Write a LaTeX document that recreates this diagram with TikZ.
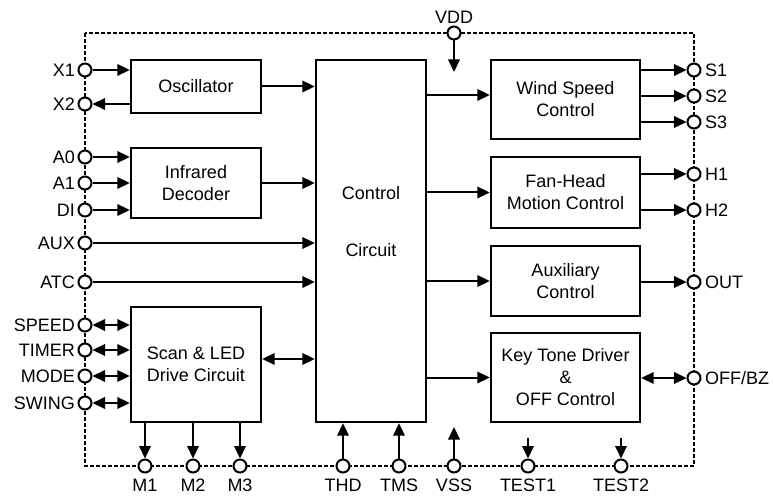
\documentclass[tikz,border=0pt]{standalone}
\usepackage{fontspec}
\setmainfont{Liberation Sans}
\usetikzlibrary{arrows.meta}
\tikzset{
  blk/.style={draw, line width=2.4pt, align=center},
  port/.style={circle, draw, fill=white, line width=2pt, minimum size=13pt, inner sep=0pt},
  lport/.style={port, label={[label distance=-1pt]left:#1}},
  rport/.style={port, label={[label distance=0pt]right:#1}},
  bport/.style={port, label={[label distance=2pt]below:#1}},
  tport/.style={port, label={[label distance=-1.5pt]above:#1}},
  sig/.style={line width=2pt, -{Triangle[length=12.5pt,width=11.5pt]}},
  bsig/.style={line width=2pt, {Triangle[length=12.5pt,width=11.5pt]}-{Triangle[length=12.5pt,width=11.5pt]}},
}
\begin{document}
\begin{tikzpicture}[x=1pt, y=-1pt, every node/.style={font=\fontsize{18}{22}\selectfont}]
  \useasboundingbox (0,0) rectangle (773,502);
  \node[blk, minimum width=130pt, minimum height=53pt] (osc) at (196,86.5) {Oscillator};
  \node[blk, minimum width=130pt, minimum height=70pt] (ird) at (196,183) {Infrared\\Decoder};
  \node[blk, minimum width=130pt, minimum height=115pt] (scan) at (196,364.5) {Scan \& LED\\Drive Circuit};
  \node[blk, minimum width=110pt, minimum height=362pt] (ctl) at (371,241) {};
  \node[align=center] (ctltxt) at (371,221.5) {Control\\[35pt]Circuit};
  \node[blk, minimum width=149pt, minimum height=79pt] (wsc) at (565.5,99.5) {Wind Speed\\Control};
  \node[blk, minimum width=149pt, minimum height=71pt] (fan) at (565.5,192.5) {Fan-Head\\Motion Control};
  \node[blk, minimum width=149pt, minimum height=70pt] (auxc) at (565.5,281) {Auxiliary\\Control};
  \node[blk, minimum width=149pt, minimum height=89pt] (key) at (565.5,377.5) {Key Tone Driver\\\&\\OFF Control};
  \draw[line width=1.4pt, dash pattern=on 4pt off 2pt] (85,33) rectangle (694,466);
  \node[lport=X1] (x1) at (85,70) {};
  \node[lport=X2] (x2) at (85,104) {};
  \node[lport=A0] (a0) at (85,157) {};
  \node[lport=A1] (a1) at (85,183) {};
  \node[lport=DI] (di) at (85,210) {};
  \node[lport=AUX] (aux) at (85,243) {};
  \node[lport=ATC] (atc) at (85,282) {};
  \node[lport=SPEED] (speed) at (85,325) {};
  \node[lport=TIMER] (timer) at (85,350) {};
  \node[lport=MODE] (mode) at (85,376) {};
  \node[lport=SWING] (swing) at (85,403) {};
  \node[rport=S1] (s1) at (694,70) {};
  \node[rport=S2] (s2) at (694,96) {};
  \node[rport=S3] (s3) at (694,122) {};
  \node[rport=H1] (h1) at (694,174) {};
  \node[rport=H2] (h2) at (694,210) {};
  \node[rport=OUT] (out) at (694,282) {};
  \node[rport=OFF/BZ] (offbz) at (694,378) {};
  \node[tport=VDD] (vdd) at (454,33) {};
  \node[bport=M1] (m1) at (145,466) {};
  \node[bport=M2] (m2) at (193,466) {};
  \node[bport=M3] (m3) at (240,466) {};
  \node[bport=THD] (thd) at (343,466) {};
  \node[bport=TMS] (tms) at (399,466) {};
  \node[bport=VSS] (vss) at (454,466) {};
  \node[bport=TEST1] (test1) at (528,466) {};
  \node[bport=TEST2] (test2) at (621,466) {};
  \coordinate (vddend) at (454,72);
  \coordinate (vssend) at (454,427);
  \coordinate (t1end) at (528,438);
  \coordinate (t2end) at (621,438);
  \draw[sig] (x1) -- (osc.west |- x1);
  \draw[sig] (osc.west |- x2) -- (x2);
  \draw[sig] (a0) -- (ird.west |- a0);
  \draw[sig] (a1) -- (ird.west |- a1);
  \draw[sig] (di) -- (ird.west |- di);
  \draw[sig] (aux) -- (ctl.west |- aux);
  \draw[sig] (atc) -- (ctl.west |- atc);
  \draw[bsig] (speed) -- (scan.west |- speed);
  \draw[bsig] (timer) -- (scan.west |- timer);
  \draw[bsig] (mode) -- (scan.west |- mode);
  \draw[bsig] (swing) -- (scan.west |- swing);
  \draw[sig] (osc) -- (ctl.west |- osc);
  \draw[sig] (ird) -- (ctl.west |- ird);
  \draw[bsig] (scan.east |- 0,359) -- (ctl.west |- 0,359);
  \draw[sig] (ctl.east |- 0,95) -- (wsc.west |- 0,95);
  \draw[sig] (ctl.east |- fan) -- (fan);
  \draw[sig] (ctl.east |- auxc) -- (auxc);
  \draw[sig] (ctl.east |- key) -- (key);
  \draw[sig] (wsc.east |- s1) -- (s1);
  \draw[sig] (wsc.east |- s2) -- (s2);
  \draw[sig] (wsc.east |- s3) -- (s3);
  \draw[sig] (fan.east |- h1) -- (h1);
  \draw[sig] (fan.east |- h2) -- (h2);
  \draw[sig] (auxc.east |- out) -- (out);
  \draw[bsig] (key.east |- offbz) -- (offbz);
  \draw[sig] (vdd) -- (vddend);
  \draw[sig] (scan.south -| m1) -- (m1);
  \draw[sig] (scan.south -| m2) -- (m2);
  \draw[sig] (scan.south -| m3) -- (m3);
  \draw[sig] (thd) -- (ctl.south -| thd);
  \draw[sig] (tms) -- (ctl.south -| tms);
  \draw[sig] (vss) -- (vssend);
  \draw[sig] (t1end) -- (test1);
  \draw[sig] (t2end) -- (test2);
\end{tikzpicture}
\end{document}
